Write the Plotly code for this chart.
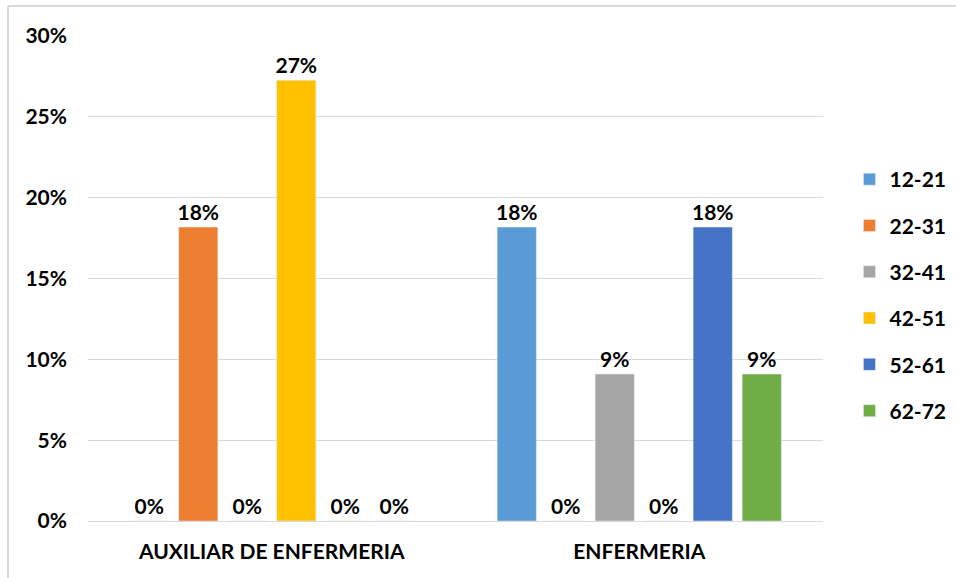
import plotly.graph_objects as go

categories = ["AUXILIAR DE ENFERMERIA", "ENFERMERIA"]
series_names = ["12-21", "22-31", "32-41", "42-51", "52-61", "62-72"]
v_12_21 = [0.0, 0.1818]
v_22_31 = [0.1818, 0.0]
v_32_41 = [0.0, 0.0909]
v_42_51 = [0.2727, 0.0]
v_52_61 = [0.0, 0.1818]
v_62_72 = [0.0, 0.0909]
series_values = [v_12_21, v_22_31, v_32_41, v_42_51, v_52_61, v_62_72]
colors = ["#5B9BD5", "#ED7D31", "#A5A5A5", "#FFC000", "#4472C4", "#70AD47"]

FONT = "Lato"
fig = go.Figure()
for name, vals, col in zip(series_names, series_values, colors):
    fig.add_trace(go.Bar(
        x=categories, y=vals, name=name, marker_color=col, legendgroup=name,
        texttemplate="%{y:.0%}", textposition="outside", cliponaxis=False,
        constraintext="none",
        textfont=dict(family=FONT, size=21, color="#000000", weight="bold"),
    ))

fig.update_layout(
    width=956, height=578,
    margin=dict(l=88, r=133, t=36, b=57, autoexpand=False),
    paper_bgcolor="white", plot_bgcolor="white",
    barmode="group", bargap=0.2, bargroupgap=0.2,
    font=dict(family=FONT, size=21, color="#000000", weight="bold"),
    legend=dict(x=1.036, xanchor="left", y=0.466, yanchor="middle",
                tracegroupgap=16, itemwidth=30,
                font=dict(family=FONT, size=21, color="#000000", weight="bold")),
    yaxis=dict(range=[0, 0.30], dtick=0.05, tickformat=".0%",
               showgrid=True, gridcolor="#D9D9D9", gridwidth=1,
               zeroline=False, showline=False, ticks="",
               ticklabelstandoff=20,
               tickfont=dict(family=FONT, size=21, color="#000000", weight="bold")),
    xaxis=dict(showline=True, linecolor="#D9D9D9", linewidth=1, ticks="",
               ticklabelstandoff=12,
               tickfont=dict(family=FONT, size=21, color="#000000", weight="bold")),
    shapes=[
        dict(type="line", xref="paper", yref="paper",
             x0=(8 - 88) / 735, x1=(8 - 88) / 735, y0=-1, y1=(521 - 6) / 485,
             line=dict(color="#D9D9D9", width=2)),
        dict(type="line", xref="paper", yref="paper",
             x0=(8 - 88) / 735, x1=2, y0=(521 - 6) / 485, y1=(521 - 6) / 485,
             line=dict(color="#D9D9D9", width=2)),
    ],
)

fig.write_html("out.html", config={"displayModeBar": False},
               post_script="document.body.style.margin='0';document.body.style.overflow='hidden';")
